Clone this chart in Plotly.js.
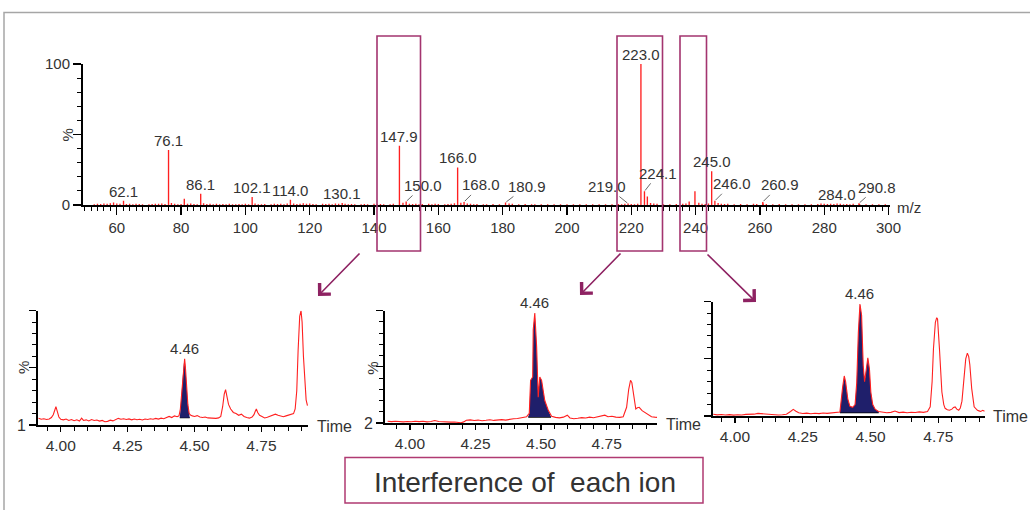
<!DOCTYPE html>
<html>
<head>
<meta charset="utf-8">
<script src="https://cdn.plot.ly/plotly-3.0.1.min.js"></script>
<style>html,body{margin:0;padding:0;background:#fff;}#chart{width:1030px;height:510px;}</style>
</head>
<body>
<div id="chart"></div>
<script>
// ---------- DATA ----------
// labelled peaks of the mass spectrum (m/z, relative intensity %)
const peakMz    = [62.1, 76.1, 86.1, 102.1, 114.0, 130.1, 147.9, 150.0, 166.0, 168.0, 180.9, 219.0, 223.0, 224.1, 245.0, 246.0, 260.9, 284.0, 290.8];
const peakInt   = [3.0, 39, 8, 5.7, 3.8, 1.5, 42, 2.5, 26.6, 2.2, 1.8, 1.0, 100, 9.7, 24, 3.0, 2.2, 1.0, 1.2];
const peakLabel = ["62.1","76.1","86.1","102.1","114.0","130.1","147.9","150.0","166.0","168.0","180.9","219.0","223.0","224.1","245.0","246.0","260.9","284.0","290.8"];
// unlabelled minor ions (m/z, %)
const minorPeaks = [
 [53,0.6],[54,0.8],[55,0.7],[56,1.0],[57,0.9],[58,1.3],[59,1.8],[60,1.1],[61,0.8],[63,0.7],[64,0.9],[65,0.6],
 [66,0.8],[67,0.7],[68,0.5],[70,0.6],[71,0.7],[72,0.9],[73,0.8],[74,1.0],[75,0.7],[77,1.5],[78,0.9],[79,0.6],
 [80,0.7],[81,4.5],[82,0.8],[83,1.0],[84,0.7],[85,0.6],[87,1.2],[88,0.7],[89,0.8],[90,0.6],[91,0.9],[92,0.6],
 [93,0.7],[94,0.5],[95,0.8],[96,0.6],[97,0.5],[98,0.7],[99,0.6],[100,0.8],[101,0.6],[103,1.0],[104,0.6],
 [105,0.5],[106,0.7],[108,0.6],[109,0.8],[110,0.7],[111,0.9],[112,0.6],[113,1.1],[115,1.0],[116,0.7],[117,0.9],
 [118,1.2],[119,0.8],[120,1.1],[121,0.7],[122,0.6],[124,0.8],[125,0.7],[126,0.9],[127,0.6],[128,1.0],[129,0.8],
 [131,0.9],[132,0.6],[133,0.7],[134,0.5],[136,0.6],[137,0.7],[138,0.5],[140,0.8],[141,0.6],[142,0.7],[143,0.5],
 [145,0.6],[146,0.8],[149,1.6],[151,0.8],[152,0.7],[153,0.9],[154,0.6],[155,0.7],[157,0.9],[158,0.6],[159,0.8],
 [160,0.7],[162,0.5],[163,0.7],[164,0.9],[165,1.2],[167,1.6],[169,1.0],[170,0.8],[171,0.6],[172,0.7],[174,0.5],
 [175,0.6],[177,0.7],[179,0.6],[182,1.1],[183,0.8],[185,0.6],[187,0.7],[189,0.5],[190,0.6],[192,0.5],[194,0.6],
 [196,0.5],[198,0.6],[200,0.5],[202,0.6],[204,0.5],[206,0.6],[208,0.5],[210,0.6],[212,0.5],[214,0.6],[216,0.7],
 [217,0.6],[218,0.8],[220,0.7],[221,0.6],[222,0.9],[225,6.0],[226,1.5],[227,1.0],[228,0.8],[230,0.6],[232,0.5],
 [234,0.7],[236,0.9],[237,1.1],[238,2.5],[239.8,9.7],[241,1.6],[242,0.9],[243,0.7],[244,1.0],[247,1.4],[248,0.9],
 [249,0.7],[250,0.8],[252,0.6],[254,0.7],[256,0.6],[258,0.8],[259,0.7],[261,1.0],[262,0.7],[264,0.6],[266,0.7],
 [268,0.6],[270,0.5],[272,0.6],[274,0.5],[276,0.6],[278,0.7],[279,1.0],[280,0.8],[281,0.7],[282,0.9],[283,0.7],
 [285,0.8],[286,0.6],[287,0.7],[288,0.6],[289,0.8],[291,0.7],[293,0.6],[295,0.5],[297,0.6],[299,0.5]
];
const mzTicks = [60, 80, 100, 120, 140, 160, 180, 200, 220, 240, 260, 280, 300];

// extracted-ion chromatograms (retention time min, %)
const chrom1 = [
 [3.917,6],[3.927,5],[3.937,5.5],[3.947,4.8],[3.957,5.2],[3.965,6.5],[3.972,9],[3.977,13],[3.982,16],[3.987,12],[3.993,7],
 [4.0,5],[4.01,4.5],[4.02,5.2],[4.03,4],[4.04,4.8],[4.05,3.8],[4.06,4.6],[4.07,3.5],[4.078,6],[4.085,4],[4.095,4.5],
 [4.105,3.6],[4.115,4.8],[4.125,4],[4.135,4.4],[4.145,3.4],[4.155,4],[4.165,2.9],[4.175,3.2],[4.185,4.2],[4.195,3.6],
 [4.205,4.8],[4.215,5.8],[4.225,5],[4.235,5.5],[4.245,4.8],[4.255,5.3],[4.265,4.5],[4.275,5.2],[4.285,4.6],[4.295,5],
 [4.305,4.4],[4.315,5.2],[4.325,4.8],[4.335,5.5],[4.345,5],[4.355,5.8],[4.365,5.2],[4.375,6],[4.385,5.5],[4.395,6.2],
 [4.405,7.5],[4.415,6.5],[4.425,8],[4.435,7.2],[4.442,8],[4.447,14],[4.452,28],[4.457,45],[4.461,56],[4.463,58],
 [4.466,50],[4.47,34],[4.475,18],[4.48,10],[4.486,8.5],[4.492,8],[4.50,7.5],[4.51,8.2],[4.52,7],[4.53,6.6],[4.54,7],
 [4.55,6.2],[4.56,6],[4.57,6.4],[4.58,5.8],[4.59,6.2],[4.598,7.5],[4.605,16],[4.611,27],[4.616,31],[4.621,26],
 [4.627,18],[4.635,14],[4.645,11],[4.655,10],[4.665,8.5],[4.675,9.5],[4.685,7.5],[4.695,6.5],[4.705,6],[4.715,7],
 [4.722,9],[4.727,12],[4.731,14],[4.736,11],[4.743,8.5],[4.752,7.5],[4.762,6.2],[4.772,6.8],[4.782,7.5],[4.792,8.8],
 [4.802,9.5],[4.812,8.5],[4.822,7.6],[4.832,7.2],[4.842,8],[4.852,8.8],[4.862,9.5],[4.87,10],[4.876,14],[4.882,30],
 [4.887,65],[4.893,95],[4.898,100],[4.902,90],[4.907,60],[4.912,35],[4.917,22],[4.922,17]
];
const chrom2 = [
 [3.915,1.5],[3.93,1.2],[3.945,1.6],[3.96,1.3],[3.975,1.0],[3.99,1.4],[4.005,1.1],[4.02,1.6],[4.035,1.2],[4.05,1.5],
 [4.065,1.0],[4.08,1.3],[4.095,2.2],[4.11,1.4],[4.125,1.1],[4.14,1.3],[4.155,0.8],[4.17,0.9],[4.185,0.3],[4.195,0.2],
 [4.205,1.0],[4.215,2.5],[4.23,2.8],[4.245,2.2],[4.26,2.6],[4.275,2.0],[4.29,2.4],[4.305,2.9],[4.32,2.3],[4.335,2.7],
 [4.35,3.0],[4.365,2.6],[4.38,3.3],[4.395,3.8],[4.41,4.0],[4.425,4.8],[4.438,5.2],[4.445,5.6],[4.455,8.6],[4.460,38],
 [4.468,41],[4.470,83],[4.476,98],[4.483,68],[4.489,23],[4.495,41],[4.502,38],[4.508,29],[4.514,20],[4.527,11.6],
 [4.540,6],[4.555,5],[4.57,4.6],[4.585,5.2],[4.60,7],[4.61,4.5],[4.625,3.8],[4.64,4.2],[4.655,4.8],[4.67,4.5],
 [4.685,5.2],[4.70,4.7],[4.715,5.5],[4.73,6.2],[4.743,7],[4.755,5.6],[4.77,6.0],[4.785,5.2],[4.80,5.0],[4.813,5.6],
 [4.826,14],[4.834,30],[4.841,38],[4.846,36],[4.854,21],[4.861,12.5],[4.867,13.5],[4.874,14],[4.885,11],[4.895,9.5],
 [4.902,8.6],[4.912,7],[4.921,5.6],[4.933,5.2],[4.942,5]
];
const chrom3 = [
 [3.92,1.5],[3.935,1.0],[3.95,1.3],[3.965,0.9],[3.98,1.2],[3.995,0.8],[4.01,1.1],[4.025,0.9],[4.04,1.4],[4.055,1.2],
 [4.07,1.6],[4.085,2.3],[4.10,2.0],[4.115,1.4],[4.13,1.2],[4.145,1.0],[4.16,0.9],[4.175,1.1],[4.19,1.6],[4.205,4.0],
 [4.215,5.8],[4.225,4.2],[4.235,2.8],[4.25,2.2],[4.265,2.5],[4.28,2.0],[4.295,2.4],[4.31,2.1],[4.325,2.6],[4.34,2.3],
 [4.355,2.8],[4.37,3.0],[4.38,3.2],[4.387,3.5],[4.397,25],[4.403,35],[4.408,30],[4.416,15],[4.424,8.5],[4.434,7.6],
 [4.443,10],[4.449,29],[4.455,73],[4.461,98],[4.467,88],[4.473,44],[4.478,30],[4.483,41],[4.490,51],[4.496,41],
 [4.501,21],[4.508,10],[4.517,6],[4.529,4],[4.545,3.5],[4.56,2.8],[4.575,3.2],[4.59,4.3],[4.605,3.0],[4.62,3.4],
 [4.635,2.9],[4.65,3.3],[4.665,3.0],[4.68,3.6],[4.695,3.2],[4.71,4.0],[4.720,8],[4.727,30],[4.732,59],[4.739,82],
 [4.744,86],[4.747,85],[4.754,59],[4.763,21],[4.770,10],[4.775,6.7],[4.783,5.5],[4.791,5],[4.80,6],[4.806,7.5],
 [4.812,8],[4.818,6],[4.825,5],[4.831,7],[4.837,13],[4.845,39],[4.851,50],[4.857,55],[4.862,52],[4.866,45],
 [4.873,24],[4.882,8],[4.894,5],[4.900,4.5],[4.906,4],[4.914,5],[4.920,4.2]
];
// integration windows [start, end, baseline %] and apex labels
const integ = [[4.445, 4.482, 6.4], [4.451, 4.538, 5.3], [4.387, 4.530, 3.0]];
const apexLabel = ["4.46", "4.46", "4.46"];
const apexTime  = [4.463, 4.476, 4.461];
const yBottomLabel = ["1", "2", ""];
const timeTicks = [4.00, 4.25, 4.50, 4.75];
const boxText = "Interference of\u00a0 each ion";

// ---------- STYLE ----------
const FONT = "Liberation Sans, Arial, sans-serif";
const TXT = "#333";
const RED = "#ff2020";
const NAVY = "#1f1f6b";
const BOXC = "#a3346f";
const W = 1030, H = 510;
const px = v => v / W, py = v => (H - v) / H;

const traces = [];
// spectrum bars
const allMz = peakMz.concat(minorPeaks.map(p => p[0]));
const allInt = peakInt.concat(minorPeaks.map(p => p[1]));
traces.push({type: "bar", x: allMz, y: allInt, width: 0.42, xaxis: "x", yaxis: "y",
  marker: {color: RED, line: {width: 0}}, hoverinfo: "skip", cliponaxis: false});

const chroms = [chrom1, chrom2, chrom3];
chroms.forEach((c, k) => {
  const xa = "x" + (k + 2), ya = "y" + (k + 2);
  const [t0, t1, base] = integ[k];
  const seg = c.filter(p => p[0] >= t0 && p[0] <= t1);
  // baseline of integration
  traces.push({type: "scatter", mode: "lines", x: [t0, t1], y: [base, base], xaxis: xa, yaxis: ya,
    line: {color: "#000", width: 1.2}, hoverinfo: "skip"});
  // filled area
  traces.push({type: "scatter", mode: "lines", xaxis: xa, yaxis: ya,
    x: [t0].concat(seg.map(p => p[0]), [t1]), y: [base].concat(seg.map(p => p[1]), [base]),
    fill: "toself", fillcolor: NAVY, line: {width: 0, color: NAVY}, hoverinfo: "skip"});
  // chromatogram trace
  traces.push({type: "scatter", mode: "lines", x: c.map(p => p[0]), y: c.map(p => p[1]), xaxis: xa, yaxis: ya,
    line: {color: RED, width: 1.1}, hoverinfo: "skip", cliponaxis: false});
});

const baseAxis = {showgrid: false, zeroline: false, showline: true, linecolor: "#000", linewidth: 2,
  ticks: "outside", tickcolor: "#000", tickwidth: 1.2, fixedrange: true,
  tickfont: {family: FONT, size: 15, color: TXT}};

const layout = {
  width: W, height: H, margin: {l: 0, r: 0, t: 0, b: 0},
  paper_bgcolor: "#fff", plot_bgcolor: "rgba(0,0,0,0)", showlegend: false,
  font: {family: FONT, color: TXT, size: 15},
  xaxis: Object.assign({}, baseAxis, {domain: [px(83), px(889.5)], range: [49.5, 300.3], anchor: "y",
    tickmode: "array", tickvals: mzTicks, ticktext: mzTicks.map(String), ticklen: 8,
    minor: {ticks: "outside", dtick: 2, tick0: 0, ticklen: 4, tickcolor: "#000", tickwidth: 1}}),
  yaxis: Object.assign({}, baseAxis, {domain: [py(205), py(64)], range: [0, 100], anchor: "x",
    tickmode: "array", tickvals: [0, 50, 100], ticktext: ["0", "", "100"], ticklen: 8,
    minor: {ticks: "outside", dtick: 10, tick0: 0, ticklen: 4, tickcolor: "#000", tickwidth: 1}}),
  annotations: [], shapes: []
};

const chromGeom = [
  {x0: 38, x1: 308, r: [3.915, 4.924], yb: 425, yt: 310.7},
  {x0: 385, x1: 657.3, r: [3.905, 4.943], yb: 423, yt: 310.7},
  {x0: 712.7, x1: 985, r: [3.918, 4.922], yb: 416, yt: 301.7}
];
chromGeom.forEach((g, k) => {
  const n = k + 2;
  layout["xaxis" + n] = Object.assign({}, baseAxis, {domain: [px(g.x0), px(g.x1)], range: g.r, anchor: "y" + n,
    tickmode: "array", tickvals: timeTicks, ticktext: timeTicks.map(v => v.toFixed(2)), ticklen: 5,
    tickfont: {family: FONT, size: 15.5, color: TXT},
    minor: {ticks: "outside", dtick: 0.05, tick0: 4, ticklen: 4, tickcolor: "#000", tickwidth: 1}});
  layout["yaxis" + n] = Object.assign({}, baseAxis, {domain: [py(g.yb), py(g.yt)], range: [0, 100], anchor: "x" + n,
    tickmode: "array", tickvals: [0, 50, 100], ticktext: [yBottomLabel[k], "", ""], ticklen: 7,
    tickfont: {family: FONT, size: 16, color: TXT},
    minor: {ticks: "outside", dtick: 10, tick0: 0, ticklen: 4, tickcolor: "#000", tickwidth: 1}});
  // apex label
  const c = chroms[k];
  const apex = c.reduce((a, p) => Math.abs(p[0] - apexTime[k]) < Math.abs(a[0] - apexTime[k]) ? p : a, c[0]);
  layout.annotations.push({xref: "x" + n, yref: "y" + n, x: apexTime[k], y: apex[1], text: apexLabel[k],
    showarrow: false, yanchor: "bottom", yshift: 0, font: {size: 15, color: TXT}});
});

// peak labels of the spectrum
const leader = {"150.0": [17, -16], "168.0": [17, -17], "180.9": [21, -16], "219.0": [-21, -17],
  "224.1": [14, -18], "246.0": [17, -17], "260.9": [17, -17], "290.8": [18, -16]};
peakLabel.forEach((lab, i) => {
  if (leader[lab]) {
    layout.annotations.push({xref: "x", yref: "y", x: peakMz[i], y: peakInt[i], text: lab,
      showarrow: true, arrowhead: 0, arrowwidth: 0.8, arrowcolor: "#444", ax: leader[lab][0], ay: leader[lab][1],
      standoff: 1, font: {size: 15, color: TXT}});
  } else {
    layout.annotations.push({xref: "x", yref: "y", x: peakMz[i], y: peakInt[i], text: lab,
      showarrow: false, yanchor: "bottom", yshift: -1, font: {size: 15, color: TXT}});
  }
});

// axis captions
const cap = (x, y, text, size, angle) => layout.annotations.push({xref: "paper", yref: "paper",
  x: px(x), y: py(y), text: text, showarrow: false, xanchor: "center", yanchor: "middle",
  textangle: angle || 0, font: {size: size, color: TXT}});
cap(67.5, 135, "%", 15, -90);
cap(908.5, 207, "m/z", 15);
cap(23, 368, "%", 15, -90);
cap(371.7, 368, "%", 15, -90);
cap(334, 426, "Time", 16);
cap(683, 424.5, "Time", 16);
cap(1010, 416.5, "Time", 16);
cap(524.5, 482, boxText, 28);

// arrows from ion windows to chromatograms
const arr = (hx, hy, tx, ty) => layout.annotations.push({xref: "paper", yref: "paper", x: px(hx), y: py(hy),
  ax: tx - hx, ay: ty - hy, text: "", showarrow: true, arrowhead: 4, arrowsize: 1.9, arrowwidth: 1.6,
  arrowcolor: "#8e2262", standoff: 0});
arr(318, 296, 361, 252);
arr(580, 295, 622, 252);
arr(756, 302, 706, 253);

// shapes
const rect = (x0, y0, x1, y1, col, w) => layout.shapes.push({type: "rect", xref: "paper", yref: "paper",
  x0: px(x0), x1: px(x1), y0: py(y1), y1: py(y0), line: {color: col, width: w}, fillcolor: "rgba(0,0,0,0)", layer: "above"});
rect(4, 12.5, 1060, 560, "#a6a6a6", 1.5);
rect(377, 36, 420.5, 251, BOXC, 1.6);
rect(617, 36, 662.5, 251, BOXC, 1.6);
rect(680, 36, 706.5, 251, BOXC, 1.6);
rect(345, 457.5, 703, 503, "#b03a72", 1.5);

Plotly.newPlot("chart", traces, layout, {staticPlot: true, displayModeBar: false});
</script>
</body>
</html>
